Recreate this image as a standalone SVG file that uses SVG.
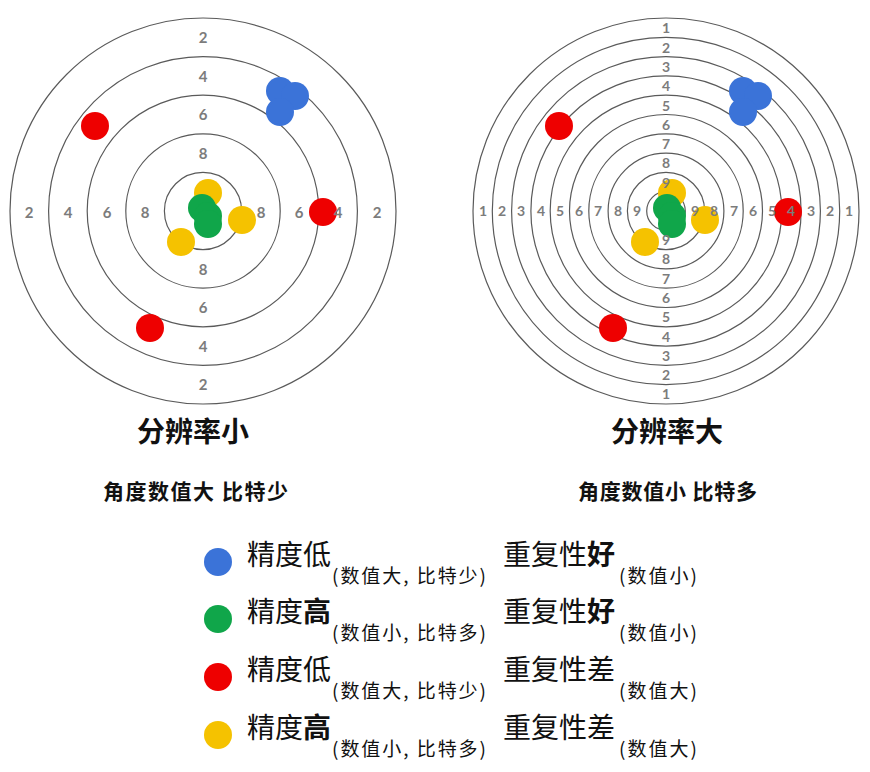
<svg xmlns="http://www.w3.org/2000/svg" width="870" height="772" viewBox="0 0 870 772">
<style>
.ring{fill:none;stroke:#5a5a5a;stroke-width:1.2}
.lblL{font-family:Lato,"Open Sans",sans-serif;font-weight:700;font-size:15px;fill:#7c7c7c;text-anchor:middle}
.lblR{font-family:Lato,"Open Sans",sans-serif;font-weight:700;font-size:14px;fill:#7c7c7c;text-anchor:middle}
.b{fill:#3b73d8}.g{fill:#10a64a}.r{fill:#ee0000}.y{fill:#f5c200}
.title{font-family:"Noto Sans CJK SC",sans-serif;font-weight:700;font-size:28px;fill:#111;text-anchor:middle}
.sub{font-family:"Noto Sans CJK SC",sans-serif;font-weight:700;font-size:21px;fill:#111}
.lg{font-family:"Noto Sans CJK SC",sans-serif;font-size:28px;fill:#111}
.sm{font-family:"Noto Sans CJK SC",sans-serif;font-size:19px;fill:#111}
.bd{font-weight:700}
</style>

<g id="target-left">
  <g class="rings">
    <circle class="ring" cx="203" cy="211" r="193"/>
    <circle class="ring" cx="203" cy="211" r="154.4"/>
    <circle class="ring" cx="203" cy="211" r="115.8"/>
    <circle class="ring" cx="203" cy="211" r="77.2"/>
    <circle class="ring" cx="203" cy="211" r="38.6"/>
  </g>
  <g class="dots">
    <circle class="r" cx="95" cy="126" r="14"/>
    <circle class="r" cx="323" cy="212" r="14"/>
    <circle class="r" cx="150" cy="328" r="14"/>
    <circle class="b" cx="280" cy="91" r="14"/>
    <circle class="b" cx="295" cy="96" r="14"/>
    <circle class="b" cx="280" cy="112" r="14"/>
    <circle class="y" cx="208" cy="193" r="14"/>
    <circle class="y" cx="242" cy="220" r="14"/>
    <circle class="y" cx="181" cy="242" r="14"/>
    <circle class="g" cx="202" cy="208" r="14"/>
    <circle class="g" cx="208" cy="216" r="14"/>
    <circle class="g" cx="208" cy="224" r="14"/>
  </g>
  <g class="labels">
    <text class="lblL" x="203" y="43">2</text>
    <text class="lblL" x="203" y="82">4</text>
    <text class="lblL" x="203" y="120">6</text>
    <text class="lblL" x="203" y="159">8</text>
    <text class="lblL" x="203" y="275">8</text>
    <text class="lblL" x="203" y="313">6</text>
    <text class="lblL" x="203" y="352">4</text>
    <text class="lblL" x="203" y="390">2</text>
    <text class="lblL" x="29" y="218">2</text>
    <text class="lblL" x="68" y="218">4</text>
    <text class="lblL" x="107" y="218">6</text>
    <text class="lblL" x="145" y="218">8</text>
    <text class="lblL" x="261" y="218">8</text>
    <text class="lblL" x="299" y="218">6</text>
    <text class="lblL" x="338" y="218">4</text>
    <text class="lblL" x="377" y="218">2</text>
  </g>
</g>

<g id="target-right">
  <g class="rings">
    <circle class="ring" cx="666" cy="211" r="193"/>
    <circle class="ring" cx="666" cy="211" r="173.7"/>
    <circle class="ring" cx="666" cy="211" r="154.4"/>
    <circle class="ring" cx="666" cy="211" r="135.1"/>
    <circle class="ring" cx="666" cy="211" r="115.8"/>
    <circle class="ring" cx="666" cy="211" r="96.5"/>
    <circle class="ring" cx="666" cy="211" r="77.2"/>
    <circle class="ring" cx="666" cy="211" r="57.9"/>
    <circle class="ring" cx="666" cy="211" r="38.6"/>
    <circle class="ring" cx="666" cy="211" r="19.3"/>
  </g>
  <g class="dots">
    <circle class="r" cx="559" cy="126" r="14"/>
    <circle class="r" cx="788" cy="212" r="14"/>
    <circle class="r" cx="613" cy="328" r="14"/>
    <circle class="b" cx="743" cy="91" r="14"/>
    <circle class="b" cx="758" cy="96" r="14"/>
    <circle class="b" cx="743" cy="112" r="14"/>
    <circle class="y" cx="672" cy="193" r="14"/>
    <circle class="y" cx="705" cy="220" r="14"/>
    <circle class="y" cx="645" cy="242" r="14"/>
    <circle class="g" cx="667" cy="208" r="14"/>
    <circle class="g" cx="672" cy="216" r="14"/>
    <circle class="g" cx="672" cy="224" r="14"/>
  </g>
  <g class="labels">
    <text class="lblR" x="666" y="33">1</text>
    <text class="lblR" x="666" y="53">2</text>
    <text class="lblR" x="666" y="72">3</text>
    <text class="lblR" x="666" y="91">4</text>
    <text class="lblR" x="666" y="111">5</text>
    <text class="lblR" x="666" y="130">6</text>
    <text class="lblR" x="666" y="149">7</text>
    <text class="lblR" x="666" y="168">8</text>
    <text class="lblR" x="666" y="188">9</text>
    <text class="lblR" x="666" y="245">9</text>
    <text class="lblR" x="666" y="264">8</text>
    <text class="lblR" x="666" y="284">7</text>
    <text class="lblR" x="666" y="303">6</text>
    <text class="lblR" x="666" y="322">5</text>
    <text class="lblR" x="666" y="342">4</text>
    <text class="lblR" x="666" y="361">3</text>
    <text class="lblR" x="666" y="380">2</text>
    <text class="lblR" x="666" y="399">1</text>
    <text class="lblR" x="483" y="216">1</text>
    <text class="lblR" x="502" y="216">2</text>
    <text class="lblR" x="521" y="216">3</text>
    <text class="lblR" x="541" y="216">4</text>
    <text class="lblR" x="560" y="216">5</text>
    <text class="lblR" x="579" y="216">6</text>
    <text class="lblR" x="598" y="216">7</text>
    <text class="lblR" x="618" y="216">8</text>
    <text class="lblR" x="637" y="216">9</text>
    <text class="lblR" x="695" y="216">9</text>
    <text class="lblR" x="714" y="216">8</text>
    <text class="lblR" x="734" y="216">7</text>
    <text class="lblR" x="753" y="216">6</text>
    <text class="lblR" x="772" y="216">5</text>
    <text class="lblR" x="791" y="216">4</text>
    <text class="lblR" x="811" y="216">3</text>
    <text class="lblR" x="830" y="216">2</text>
    <text class="lblR" x="849" y="216">1</text>
  </g>
</g>

<g id="caption-left">
  <text class="title" x="193" y="442">分辨率小</text>
  <text class="sub" x="103" y="499" textLength="185">角度数值大 比特少</text>
</g>
<g id="caption-right">
  <text class="title" x="667" y="442">分辨率大</text>
  <text class="sub" x="578" y="499" textLength="179">角度数值小 比特多</text>
</g>

<g id="legend">
  <g id="legend-blue">
    <circle class="b" cx="218" cy="562" r="14"/>
    <text class="lg" x="247" y="565">精度低</text>
    <text class="sm" x="332" y="583" textLength="154">(数值大, 比特少)</text>
    <text class="lg" x="503" y="565">重复性<tspan class="bd">好</tspan></text>
    <text class="sm" x="619" y="583" textLength="78">(数值小)</text>
  </g>
  <g id="legend-green">
    <circle class="g" cx="218" cy="619" r="14"/>
    <text class="lg" x="247" y="622">精度<tspan class="bd">高</tspan></text>
    <text class="sm" x="332" y="640" textLength="154">(数值小, 比特多)</text>
    <text class="lg" x="503" y="622">重复性<tspan class="bd">好</tspan></text>
    <text class="sm" x="619" y="640" textLength="78">(数值小)</text>
  </g>
  <g id="legend-red">
    <circle class="r" cx="218" cy="677" r="14"/>
    <text class="lg" x="247" y="680">精度低</text>
    <text class="sm" x="332" y="698" textLength="154">(数值大, 比特少)</text>
    <text class="lg" x="503" y="680">重复性差</text>
    <text class="sm" x="619" y="698" textLength="78">(数值大)</text>
  </g>
  <g id="legend-yellow">
    <circle class="y" cx="218" cy="735" r="14"/>
    <text class="lg" x="247" y="738">精度<tspan class="bd">高</tspan></text>
    <text class="sm" x="332" y="756" textLength="154">(数值小, 比特多)</text>
    <text class="lg" x="503" y="738">重复性差</text>
    <text class="sm" x="619" y="756" textLength="78">(数值大)</text>
  </g>
</g>
</svg>
